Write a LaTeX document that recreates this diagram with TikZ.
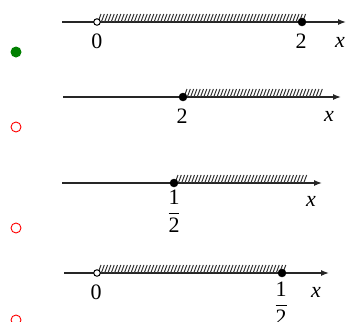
\documentclass[tikz,border=0pt]{standalone}
\usepackage{amsmath}
\usepackage{fontspec}
\setmainfont{Liberation Serif}
\usetikzlibrary{arrows.meta}
\tikzset{
  axis/.style={draw=black!85, line width=1.3pt, -{Latex[length=8pt,width=6pt]}},
  fulldot/.style={circle, fill=black, draw=black, inner sep=0pt, minimum size=8pt},
  opendot/.style={circle, fill=white, draw=black, line width=1pt, inner sep=0pt, minimum size=6.5pt},
  hatchln/.style={draw=black!80, line width=1pt},
  lbl/.style={font=\fontsize{22}{24}\selectfont, inner sep=0pt},
  rightmark/.style={circle, fill=green!50!black, inner sep=0pt, minimum size=11pt},
  wrongmark/.style={circle, draw=red, line width=0.9pt, inner sep=0pt, minimum size=10pt}
}
% short slanted strokes above an axis, between two x values
\newcommand{\hatchbar}[3]{%
  \pgfmathsetmacro\hsecond{#1+3.3}%
  \foreach \hx in {#1,\hsecond,...,#2}
    \draw[hatchln] (\hx,#3) -- ++(3,-8);%
}
\newcommand{\half}{$\dfrac{\text{1}}{\text{2}}$}
\begin{document}
\begin{tikzpicture}[x=1pt,y=-1pt]
  \useasboundingbox (0,0) rectangle (349,322);
  % choice A
  \node[rightmark] (mA) at (16,52) {};
  \coordinate (sA) at (62,22); \coordinate (eA) at (346,22);
  \draw[axis] (sA) -- (eA);
  \hatchbar{98}{304}{22}
  \node[opendot] (aA) at (97,22) {};
  \node[fulldot] (bA) at (302,22) {};
  \node[lbl] at (97,41) {0};
  \node[lbl] at (301,41) {2};
  \node[lbl] at (340,42) {\textit{x}};
  % choice B
  \node[wrongmark] (mB) at (16,127) {};
  \coordinate (sB) at (63,97); \coordinate (eB) at (341,97);
  \draw[axis] (sB) -- (eB);
  \hatchbar{184}{322}{97}
  \node[fulldot] (aB) at (183,97) {};
  \node[lbl] at (182,116) {2};
  \node[lbl] at (329,116) {\textit{x}};
  % choice C
  \node[wrongmark] (mC) at (16,228) {};
  \coordinate (sC) at (62,183); \coordinate (eC) at (322,183);
  \draw[axis] (sC) -- (eC);
  \hatchbar{175}{305}{183}
  \node[fulldot] (aC) at (174,183) {};
  \node[lbl] at (174,211) {\half};
  \node[lbl] at (311,201) {\textit{x}};
  % choice D
  \node[wrongmark] (mD) at (16,320) {};
  \coordinate (sD) at (64,273); \coordinate (eD) at (329,273);
  \draw[axis] (sD) -- (eD);
  \hatchbar{98}{284}{273}
  \node[opendot] (aD) at (97,273) {};
  \node[fulldot] (bD) at (282,273) {};
  \node[lbl] at (96,292) {0};
  \node[lbl] at (281,303) {\half};
  \node[lbl] at (316,292) {\textit{x}};
\end{tikzpicture}
\end{document}
